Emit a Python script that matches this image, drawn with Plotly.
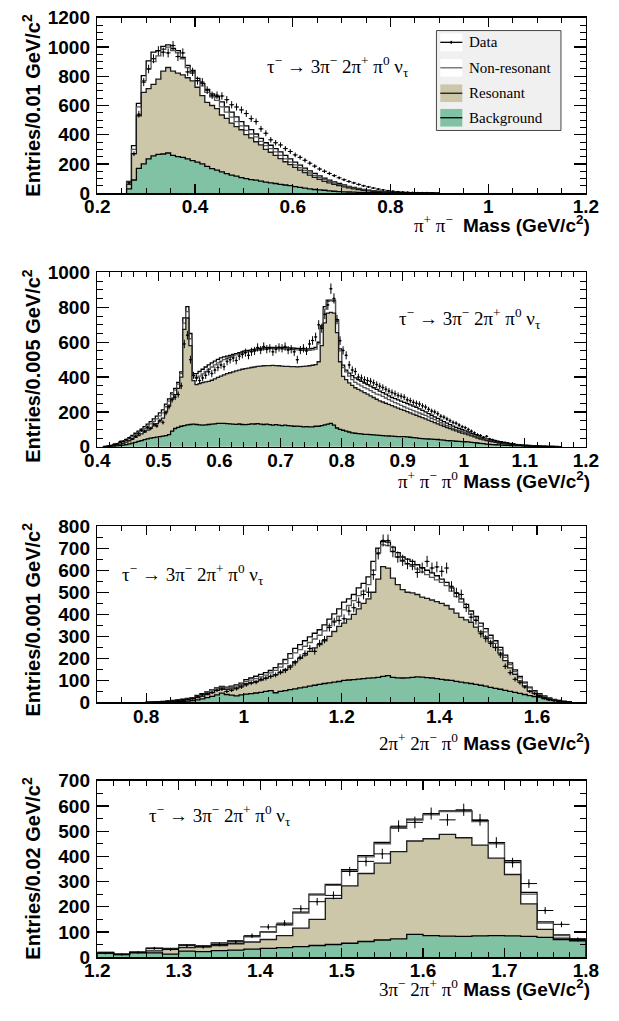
import numpy as np
import plotly.graph_objects as go

W, H = 619, 1021
GREEN = '#80c2a3'
TAN = '#cdc7aa'

# ---------------- Panel 1 : pi+ pi- mass (bins 0.01 from 0.26)
p1_start, p1_width = 0.26, 0.01
p1_bkg = [30, 90, 170, 200, 235, 255, 265, 268, 275, 258,
          250, 245, 235, 222, 212, 200, 183, 168, 157, 145,
          134, 123, 116, 107, 100, 93, 89, 82, 76, 71,
          66, 60, 56, 51, 45, 40, 34, 29, 25, 22,
          20, 16, 13, 11, 9, 8, 7, 6, 5, 4,
          3, 3, 2, 2, 1, 1, 1, 0, 0, 0,
          0, 0, 0, 0]
p1_res = [60, 270, 530, 690, 715, 745, 780, 835, 860, 835,
          822, 810, 790, 768, 725, 668, 622, 600, 578, 535,
          512, 480, 456, 434, 400, 378, 352, 330, 300, 280,
          258, 236, 215, 195, 176, 158, 140, 124, 108, 94,
          81, 70, 60, 51, 43, 36, 30, 25, 20, 16,
          13, 10, 8, 6, 5, 4, 3, 2, 2, 1,
          1, 0, 0, 0]
p1_nonres = [75, 300, 590, 770, 850, 900, 940, 985, 1000, 975,
             960, 920, 860, 820, 770, 735, 690, 660, 635, 590,
             555, 520, 490, 460, 430, 405, 385, 355, 325, 305,
             282, 258, 235, 213, 193, 174, 155, 138, 121, 106,
             92, 80, 69, 59, 50, 42, 35, 29, 24, 19,
             15, 12, 9, 7, 5, 4, 3, 2, 2, 1,
             1, 1, 0, 0]
p1_total = [80, 325, 615, 805, 905, 965, 975, 1005, 1015, 990,
            975, 930, 875, 840, 785, 750, 710, 680, 660, 625,
            590, 555, 522, 490, 460, 435, 405, 375, 345, 328,
            305, 282, 258, 235, 213, 192, 172, 153, 135, 118,
            103, 89, 77, 66, 56, 47, 39, 32, 26, 21,
            17, 13, 10, 8, 6, 5, 4, 3, 2, 2,
            1, 1, 1, 0]
p1_data = [70, 270, 540, 760, 850, 920, 975, 965, 960, 1010,
           935, 960, 830, 830, 770, 760, 705, 670, 670, 665,
           640, 605, 590, 570, 545, 510, 490, 440, 410, 365,
           345, 330, 305, 285, 262, 245, 225, 205, 185, 165,
           150, 135, 120, 105, 92, 80, 70, 60, 50, 43,
           35, 28, 22, 17, 13, 10, 8, 6, 4, 3,
           2, 2, 1, 0]

# ---------------- Panel 2 : pi+ pi- pi0 mass (bins 0.005 from 0.41)
p2_start, p2_width = 0.41, 0.005
p2_bkg = [0, 1, 2, 3, 5, 7, 10, 13, 17, 21,
          26, 31, 36, 41, 46, 50, 53, 56, 59, 61,
          64, 70, 90, 105, 112, 118, 122, 126, 128, 130,
          128, 126, 124, 126, 128, 130, 132, 134, 135, 134,
          133, 132, 130, 129, 131, 128, 127, 129, 132, 131,
          133, 130, 128, 130, 127, 125, 127, 124, 122, 124,
          122, 120, 118, 119, 117, 115, 116, 114, 115, 118,
          118, 122, 126, 130, 135, 124, 108, 100, 95, 90,
          85, 80, 78, 76, 74, 72, 71, 70, 68, 67,
          66, 64, 63, 62, 61, 60, 59, 58, 58, 57,
          55, 53, 51, 49, 47, 46, 45, 44, 43, 42,
          40, 38, 36, 35, 34, 32, 31, 30, 29, 28,
          26, 24, 22, 20, 18, 16, 14, 13, 12, 11,
          10, 9, 8, 7, 6, 5, 5, 4, 4, 3,
          3, 2, 2, 2, 1, 1, 1, 1, 0, 0]
p2_res = [1, 2, 4, 7, 11, 15, 20, 27, 35, 45,
          55, 64, 74, 85, 96, 108, 120, 133, 150, 165,
          200, 235, 275, 300, 335, 400, 674, 739, 581, 380,
          357, 362, 368, 372, 376, 382, 390, 398, 405, 413,
          420, 425, 430, 436, 440, 445, 449, 452, 455, 458,
          462, 463, 465, 466, 466, 467, 466, 465, 463, 462,
          461, 460, 460, 459, 460, 462, 463, 465, 468, 472,
          488, 581, 711, 767, 771, 767, 655, 488, 404, 385,
          367, 353, 339, 330, 321, 311, 302, 292, 283, 273,
          264, 257, 250, 243, 236, 229, 222, 215, 209, 202,
          195, 188, 181, 174, 167, 160, 153, 146, 139, 132,
          125, 118, 111, 104, 97, 91, 85, 79, 74, 69,
          63, 57, 50, 45, 40, 36, 32, 28, 25, 22,
          19, 17, 15, 13, 11, 10, 8, 7, 6, 5,
          5, 4, 3, 3, 2, 2, 2, 1, 1, 1]
p2_nonres = [1, 3, 6, 10, 15, 21, 28, 36, 46, 58,
             70, 80, 92, 105, 118, 132, 146, 160, 178, 195,
             230, 262, 300, 325, 360, 420, 710, 775, 620, 410,
             395, 405, 418, 432, 445, 458, 470, 482, 492, 500,
             508, 515, 522, 528, 533, 538, 542, 546, 549, 552,
             555, 558, 560, 562, 563, 564, 564, 563, 562, 561,
             560, 559, 558, 556, 555, 554, 553, 554, 556, 560,
             590, 680, 790, 835, 838, 835, 720, 550, 455, 430,
             405, 385, 370, 360, 350, 340, 332, 322, 312, 302,
             298, 289, 280, 271, 262, 254, 246, 238, 230, 222,
             215, 208, 201, 194, 187, 180, 172, 164, 156, 148,
             138, 130, 122, 114, 106, 100, 94, 88, 82, 76,
             69, 62, 55, 49, 44, 40, 36, 32, 28, 25,
             22, 19, 17, 15, 13, 11, 10, 8, 7, 6,
             5, 4, 4, 3, 3, 2, 2, 2, 1, 1]
p2_total = [2, 4, 8, 12, 18, 25, 33, 42, 53, 66,
            78, 90, 102, 116, 130, 145, 160, 176, 195, 212,
            245, 275, 310, 335, 370, 430, 740, 804, 650, 420,
            420, 432, 445, 458, 470, 482, 492, 502, 510, 516,
            520, 525, 530, 535, 540, 545, 550, 553, 556, 559,
            562, 565, 567, 569, 570, 571, 571, 570, 570, 569,
            568, 567, 566, 565, 563, 562, 561, 562, 565, 570,
            600, 693, 804, 842, 842, 842, 730, 562, 469, 440,
            423, 408, 395, 385, 376, 366, 357, 348, 339, 329,
            320, 311, 302, 292, 283, 276, 269, 262, 255, 248,
            241, 234, 227, 218, 209, 200, 190, 181, 172, 163,
            153, 145, 136, 127, 119, 112, 105, 98, 91, 85,
            77, 70, 63, 56, 50, 45, 41, 37, 33, 29,
            26, 23, 20, 17, 15, 13, 11, 10, 9, 8,
            7, 6, 5, 4, 4, 3, 3, 2, 2, 1]
p2_data = [1, 3, 6, 15, 18, 30, 32, 40, 52, 45,
           60, 75, 95, 90, 110, 105, 130, 120, 150, 140,
           195, 230, 270, 285, 300, 350, 590, 640, 500, 410,
           395, 380, 395, 410, 430, 420, 440, 455, 470, 460,
           490, 500, 510, 495, 520, 530, 540, 525, 545, 550,
           570, 555, 575, 560, 565, 545, 560, 570, 565, 575,
           555, 560, 545, 500, 555, 565, 550, 590, 610, 630,
           700, 680, 760, 814, 907, 851, 730, 609, 553, 525,
           470, 441, 432, 400, 395, 385, 380, 376, 367, 357,
           348, 340, 330, 320, 312, 305, 295, 290, 285, 270,
           265, 255, 250, 245, 235, 228, 215, 205, 200, 190,
           175, 170, 160, 150, 140, 135, 125, 115, 110, 100,
           90, 80, 70, 65, 55, 60, 45, 40, 35, 30,
           28, 25, 22, 18, 15, 12, 10, 8, 6, 5,
           4, 3, 3, 2, 2, 1, 1, 1, 0, 0]

# ---------------- Panel 3 : 2pi+ 2pi- pi0 mass (bins 0.01 from 0.80)
p3_start, p3_width = 0.80, 0.01
p3_bkg = [0, 0, 1, 1, 2, 3, 4, 5, 6, 8,
          12, 16, 22, 28, 34, 42, 36, 33, 30, 34,
          38, 40, 43, 46, 50, 54, 44, 50, 54, 58,
          62, 66, 70, 74, 78, 82, 86, 89, 92, 95,
          100, 102, 104, 106, 108, 110, 112, 114, 118, 122,
          114, 112, 111, 112, 114, 116, 115, 113, 111, 108,
          105, 102, 100, 96, 92, 89, 86, 82, 78, 74,
          68, 64, 60, 55, 50, 46, 41, 36, 31, 27,
          24, 18, 13, 9, 6, 3, 1]
p3_res = [1, 1, 2, 3, 4, 6, 8, 10, 13, 16,
          22, 28, 36, 45, 55, 65, 60, 62, 66, 75,
          85, 90, 96, 102, 110, 118, 126, 136, 150, 166,
          185, 200, 215, 232, 248, 262, 280, 300, 322, 345,
          360, 378, 400, 425, 450, 470, 500, 560, 616, 610,
          564, 535, 512, 500, 497, 490, 478, 472, 465, 458,
          450, 440, 424, 405, 386, 375, 364, 342, 320, 298,
          275, 250, 224, 190, 157, 128, 98, 75, 53, 42,
          31, 23, 16, 11, 8, 5, 2]
p3_nonres = [1, 2, 3, 4, 6, 8, 10, 13, 16, 20,
             28, 35, 43, 53, 62, 70, 66, 69, 74, 82,
             95, 101, 108, 116, 124, 134, 146, 160, 176, 200,
             225, 240, 255, 272, 288, 305, 325, 348, 370, 392,
             420, 440, 462, 485, 505, 535, 600, 680, 715, 712,
             685, 660, 640, 628, 618, 605, 592, 580, 568, 556,
             545, 530, 505, 480, 455, 430, 400, 375, 345, 320,
             292, 268, 238, 205, 172, 140, 112, 88, 66, 50,
             37, 27, 19, 13, 9, 5, 3]
p3_total = [1, 2, 3, 5, 7, 9, 12, 15, 18, 22,
            32, 40, 48, 57, 66, 73, 70, 74, 80, 88,
            104, 111, 119, 127, 135, 145, 158, 175, 195, 222,
            245, 262, 280, 298, 314, 330, 352, 378, 402, 425,
            455, 470, 490, 520, 540, 570, 640, 700, 730, 728,
            705, 680, 660, 650, 640, 625, 612, 600, 588, 575,
            560, 545, 520, 495, 470, 445, 415, 390, 360, 335,
            305, 280, 250, 215, 180, 148, 118, 92, 70, 54,
            40, 30, 21, 14, 9, 5, 3]
p3_data = [0, 1, 2, 3, 5, 6, 10, 12, 15, 18,
           25, 35, 40, 45, 55, 60, 50, 55, 62, 70,
           80, 88, 92, 105, 110, 118, 125, 138, 145, 160,
           180, 205, 222, 245, 232, 268, 285, 340, 365, 372,
           380, 415, 430, 455, 490, 500, 580, 675, 735, 735,
           685, 660, 645, 630, 625, 590, 610, 640, 610, 615,
           595, 610, 527, 498, 490, 431, 387, 372, 312, 290,
           268, 249, 216, 164, 135, 105, 90, 70, 50, 40,
           28, 18, 12, 8, 5, 3, 1]

# ---------------- Panel 4 : 3pi- 2pi+ pi0 mass (bins 0.02 from 1.20)
p4_start, p4_width = 1.20, 0.02
p4_bkg = [16, 10, 17, 17, 12, 24, 22, 26, 28, 32, 35, 38, 42, 46, 50,
          55, 62, 68, 72, 90, 85, 83, 82, 84, 85, 84, 82, 78, 70, 65]
p4_res = [18, 12, 20, 25, 35, 38, 42, 46, 53, 60, 70, 85, 115, 150, 233,
          283, 332, 373, 419, 461, 470, 487, 474, 445, 393, 328, 211, 110, 75, 66]
p4_nonres = [19, 12, 20, 34, 30, 47, 44, 55, 63, 80, 98, 127, 175, 246, 285,
             342, 398, 450, 511, 544, 565, 578, 578, 538, 450, 378, 250, 135, 85, 71]
p4_total = [19, 12, 20, 36, 30, 49, 45, 56, 65, 82, 100, 130, 179, 250, 289,
            347, 403, 455, 516, 548, 568, 581, 581, 542, 454, 383, 257, 140, 88, 73]
p4_data = [15, 10, 18, 35, 30, 45, 40, 50, 60, 85, 120, 135, 192, 220, 245,
           340, 380, 410, 520, 535, 570, 545, 585, 545, 455, 375, 292, 185, 130, 70]

# ---------------- labels
y_titles = ['Entries/0.01 GeV/c<sup>2</sup>', 'Entries/0.005 GeV/c<sup>2</sup>',
            'Entries/0.001 GeV/c<sup>2</sup>', 'Entries/0.02 GeV/c<sup>2</sup>']
x_particles = ['\u03c0<sup>+</sup> \u03c0<sup>\u2212</sup> ',
               '\u03c0<sup>+</sup> \u03c0<sup>\u2212</sup> \u03c0<sup>0</sup>',
               '2\u03c0<sup>+</sup> 2\u03c0<sup>\u2212</sup> \u03c0<sup>0</sup>',
               '3\u03c0<sup>\u2212</sup> 2\u03c0<sup>+</sup> \u03c0<sup>0</sup>']
decay_text = ('\u03c4<sup>\u2212</sup> \u2192 3\u03c0<sup>\u2212</sup> 2\u03c0<sup>+</sup> '
              '\u03c0<sup>0</sup> \u03bd<sub>\u03c4</sub>')
legend_names = ['Data', 'Non-resonant', 'Resonant', 'Background']

panels = [
    dict(start=p1_start, width=p1_width, bkg=p1_bkg, res=p1_res, nonres=p1_nonres,
         total=p1_total, data=p1_data, xr=[0.2, 1.2], x0=0.2, dx=0.2, mdx=0.05,
         yr=[0, 1200], dy=200, top=8, bot=187, ttl=219, dec=(263, 58, 'left')),
    dict(start=p2_start, width=p2_width, bkg=p2_bkg, res=p2_res, nonres=p2_nonres,
         total=p2_total, data=p2_data, xr=[0.4, 1.2], x0=0.4, dx=0.1, mdx=0.02,
         yr=[0, 1000], dy=200, top=268, bot=446, ttl=480, dec=(401, 315, 'left')),
    dict(start=p3_start, width=p3_width, bkg=p3_bkg, res=p3_res, nonres=p3_nonres,
         total=p3_total, data=p3_data, xr=[0.7, 1.7], x0=0.8, dx=0.2, mdx=0.05,
         yr=[0, 800], dy=100, top=527, bot=707, ttl=747, dec=(112, 576, 'left')),
    dict(start=p4_start, width=p4_width, bkg=p4_bkg, res=p4_res, nonres=p4_nonres,
         total=p4_total, data=p4_data, xr=[1.2, 1.8], x0=1.2, dx=0.1, mdx=0.02,
         yr=[0, 700], dy=100, top=787, bot=967, ttl=999, dec=(140, 822, 'left')),
]

LEFT, RIGHT = 88, 598


def px(x):
    return x / W


def py(y):
    return 1 - y / H


def step_xy(start, width, vals):
    n = len(vals)
    edges = start + width * np.arange(n + 1)
    xs = np.concatenate([[edges[0]], edges[:-1], [edges[-1], edges[-1]]])
    ys = np.concatenate([[0], vals, [vals[-1], 0]])
    return xs, ys


fig = go.Figure()
annotations = []
shapes = []
layout_axes = {}

for k, p in enumerate(panels, start=1):
    xa = 'x' if k == 1 else f'x{k}'
    ya = 'y' if k == 1 else f'y{k}'
    layers = [('total', 'white', '#000000'), ('nonres', 'white', '#555555'),
              ('res', TAN, '#1a1a1a'), ('bkg', GREEN, '#000000')]
    for key, fc, lc in layers:
        xs, ys = step_xy(p['start'], p['width'], np.array(p[key], dtype=float))
        fig.add_trace(go.Scatter(x=xs, y=ys, mode='lines', xaxis=xa, yaxis=ya,
                                 line=dict(shape='hv', color=lc, width=1.3),
                                 fill='tozeroy', fillcolor=fc, showlegend=False,
                                 hoverinfo='skip'))
    d = np.array(p['data'], dtype=float)
    centers = p['start'] + p['width'] * (np.arange(len(d)) + 0.5)
    m = d > 0
    fig.add_trace(go.Scatter(x=centers[m], y=d[m], mode='markers', xaxis=xa, yaxis=ya,
                             marker=dict(size=2, color='black'),
                             error_x=dict(type='constant', value=p['width'] / 2,
                                          thickness=1, width=0, color='black'),
                             error_y=dict(type='data', array=np.sqrt(d[m]),
                                          thickness=1, width=0, color='black'),
                             showlegend=False, hoverinfo='skip'))

    ydom = [py(p['bot']), py(p['top'])]
    xkey = 'xaxis' if k == 1 else f'xaxis{k}'
    ykey = 'yaxis' if k == 1 else f'yaxis{k}'
    tickfont = dict(family='Liberation Sans', size=19, color='black', weight='bold')
    layout_axes[xkey] = dict(domain=[px(LEFT), px(RIGHT)], anchor=ya, range=p['xr'],
                             tick0=p['x0'], dtick=p['dx'], ticks='inside', ticklen=9,
                             tickwidth=1.2, tickcolor='black',
                             minor=dict(ticks='inside', ticklen=5, dtick=p['mdx'],
                                        tick0=p['x0'], tickwidth=1, tickcolor='black'),
                             showline=True, linecolor='black', linewidth=1.5,
                             mirror='allticks', showgrid=False, zeroline=False,
                             tickfont=tickfont, ticklabelstandoff=-4)
    layout_axes[ykey] = dict(domain=ydom, anchor=xa, range=p['yr'], tick0=0,
                             dtick=p['dy'], ticks='inside', ticklen=12, tickwidth=1.2,
                             tickcolor='black',
                             minor=dict(ticks='inside', ticklen=6, dtick=50, tick0=0,
                                        tickwidth=1, tickcolor='black'),
                             showline=True, linecolor='black', linewidth=1.5,
                             mirror='allticks', showgrid=False, zeroline=False,
                             tickfont=tickfont, ticklabelstandoff=2)

    # y title
    annotations.append(dict(xref='paper', yref='paper', x=px(19), y=py(max(p['top'] - 6, 1)),
                            xanchor='center', yanchor='top', textangle=-90, showarrow=False,
                            text='<b>' + y_titles[k - 1] + '</b>',
                            font=dict(family='Liberation Sans', size=20, color='black')))
    # x title
    annotations.append(dict(xref='paper', yref='paper', x=px(604), y=py(p['ttl']),
                            xanchor='right', yanchor='middle', showarrow=False,
                            text=('<span style="font-family:Liberation Serif">'
                                  + x_particles[k - 1] + '</span> <b>Mass (GeV/c<sup>2</sup>)</b>'),
                            font=dict(family='Liberation Sans', size=19, color='black')))
    # decay label
    dxp, dyp, anc = p['dec']
    annotations.append(dict(xref='paper', yref='paper', x=px(dxp), y=py(dyp),
                            xanchor=anc, yanchor='middle', showarrow=False, text=decay_text,
                            font=dict(family='Liberation Serif', size=19, color='black')))

# legend box in panel 1
shapes.append(dict(type='rect', xref='paper', yref='paper', x0=px(442), x1=px(572),
                   y0=py(123), y1=py(21), fillcolor='#f0f0f0',
                   line=dict(color='#444444', width=1), layer='above'))
rows = [(33, 'white', '#000000'), (59, 'white', '#666666'), (85, TAN, '#1a1a1a'),
        (110, GREEN, '#000000')]
for (yc, fc, lc), name in zip(rows, legend_names):
    shapes.append(dict(type='rect', xref='paper', yref='paper', x0=px(446), x1=px(469),
                       y0=py(yc + 9), y1=py(yc - 9), fillcolor=fc, line=dict(width=0),
                       layer='above'))
    shapes.append(dict(type='line', xref='paper', yref='paper', x0=px(446), x1=px(469),
                       y0=py(yc), y1=py(yc), line=dict(color=lc, width=1.3), layer='above'))
    annotations.append(dict(xref='paper', yref='paper', x=px(474), y=py(yc),
                            xanchor='left', yanchor='middle', showarrow=False, text=name,
                            font=dict(family='Liberation Serif', size=15, color='black')))
shapes.append(dict(type='line', xref='paper', yref='paper', x0=px(457.5), x1=px(457.5),
                   y0=py(34.5), y1=py(31.5), line=dict(color='black', width=1.5),
                   layer='above'))

fig.update_layout(width=W, height=H, margin=dict(l=0, r=0, t=0, b=0),
                  paper_bgcolor='white', plot_bgcolor='white', showlegend=False,
                  hovermode=False,
                  annotations=annotations, shapes=shapes, **layout_axes)

fig.write_html('out.html', config={'displayModeBar': False, 'staticPlot': True},
               post_script="document.body.style.margin='0';"
                           "document.body.style.overflow='hidden';")
